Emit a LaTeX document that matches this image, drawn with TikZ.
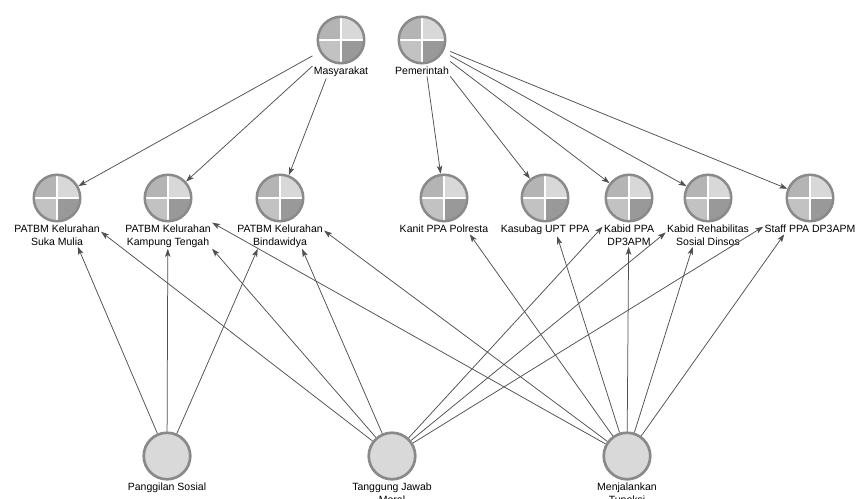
\documentclass[tikz,border=0pt]{standalone}
\usepackage{fontspec}
\setmainfont{Liberation Sans}
\usetikzlibrary{arrows.meta,fit,calc}
\definecolor{ringc}{HTML}{8A8A8A}
\definecolor{qa}{HTML}{B4B4B4}
\definecolor{qb}{HTML}{D8D8D8}
\definecolor{qc}{HTML}{C2C2C2}
\definecolor{qd}{HTML}{999999}
\definecolor{plain}{HTML}{D9D9D9}
\definecolor{edgec}{HTML}{505050}
\tikzset{
  quad/.style={circle, minimum size=46.5pt, inner sep=0pt, draw=ringc, line width=2.5pt,
    path picture={
      \fill[qa] (path picture bounding box.center) rectangle (path picture bounding box.north west);
      \fill[qb] (path picture bounding box.center) rectangle (path picture bounding box.north east);
      \fill[qc] (path picture bounding box.center) rectangle (path picture bounding box.south west);
      \fill[qd] (path picture bounding box.center) rectangle (path picture bounding box.south east);
      \draw[white, line width=2.6pt] (path picture bounding box.north) -- (path picture bounding box.south)
        (path picture bounding box.west) -- (path picture bounding box.east);
    }},
  plainc/.style={circle, minimum size=46.5pt, inner sep=0pt, draw=ringc, line width=2.7pt, fill=plain},
  lbl/.style={anchor=north, inner sep=1pt, align=center, font=\fontsize{10.5}{12.5}\selectfont, text=black},
  hull/.style={inner sep=0pt},
  edge/.style={draw=edgec, line width=0.75pt},
  arr/.style={edge, -{Stealth[length=8pt, width=5.5pt, inset=2pt]}}
}
\newcommand\mknode[4]{%
  \node[#4] (#1) at (#2) {};
  \node[lbl] (#1l) at ([yshift=-1.5pt]#1.south) {#3};
  \node[hull, fit={(#1l) ($(#1)!-1!(#1l.south)$)}] (#1s) {};
}
\begin{document}
\begin{tikzpicture}[x=1pt, y=-1pt]
\clip (0,0) rectangle (858,498);
\fill[white] (0,0) rectangle (858,498);

% top row
\mknode{ms}{341,40}{Masyarakat}{quad}
\mknode{pe}{422,40}{Pemerintah}{quad}

% middle row
\mknode{suka}{57,198}{PATBM Kelurahan\\Suka Mulia}{quad}
\mknode{kamp}{168,198}{PATBM Kelurahan\\Kampung Tengah}{quad}
\mknode{bind}{280,198}{PATBM Kelurahan\\Bindawidya}{quad}
\mknode{kanit}{444,198}{Kanit PPA Polresta}{quad}
\mknode{kasub}{545,198}{Kasubag UPT PPA}{quad}
\mknode{kppa}{629,198}{Kabid PPA\\DP3APM}{quad}
\mknode{kreh}{708,198}{Kabid Rehabilitas\\Sosial Dinsos}{quad}
\mknode{staff}{810,198}{Staff PPA DP3APM}{quad}

% bottom row
\mknode{pang}{167,456}{Panggilan Sosial}{plainc}
\mknode{tang}{392,456}{Tanggung Jawab\\Moral}{plainc}
\mknode{menj}{627,456}{Menjalankan\\Tupoksi}{plainc}

% edges from top
\foreach \t in {suka,kamp,bind} \draw[arr] (mss) -- (\t);
\foreach \t in {kanit,kasub,kppa,kreh,staff} \draw[arr] (pes) -- (\t);

% edges from bottom
\foreach \t in {suka,kamp,bind} \draw[arr] (pang) -- (\t s);
\foreach \t in {suka,kamp,bind,kppa,kreh,staff} \draw[arr] (tang) -- (\t s);
\foreach \t in {kamp,bind,kanit,kasub,kppa,kreh,staff} \draw[arr] (menj) -- (\t s);
\end{tikzpicture}
\end{document}
